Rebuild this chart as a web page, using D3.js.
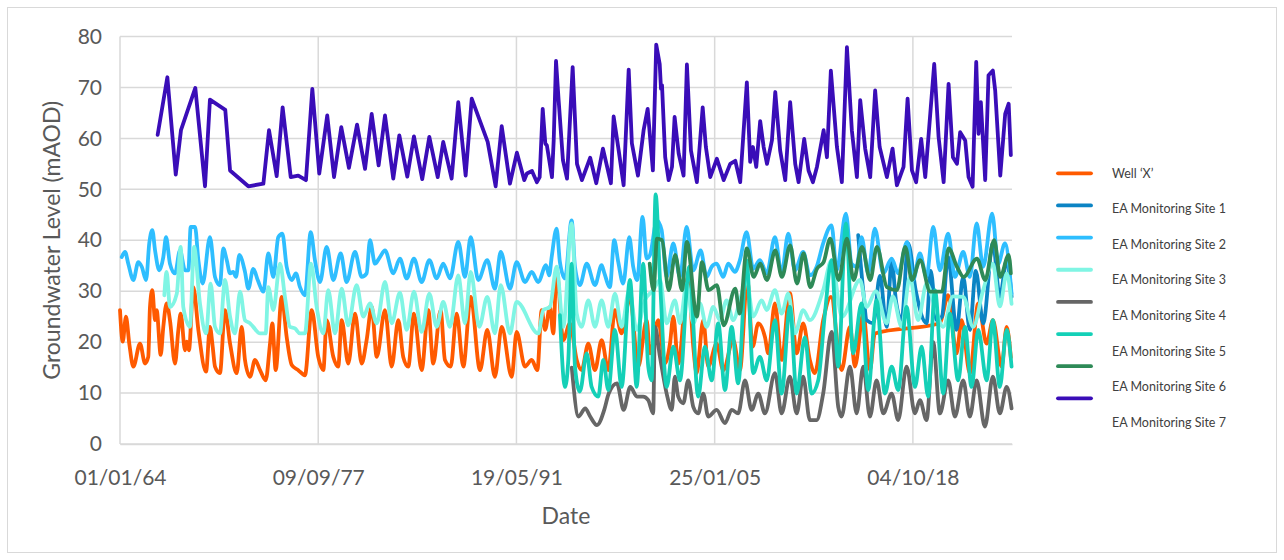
<!DOCTYPE html>
<html><head><meta charset="utf-8">
<script src="https://cdn.jsdelivr.net/npm/d3@7"></script>
<style>html,body{margin:0;padding:0;background:#fff;}svg{display:block;}</style>
</head><body>
<svg id="chart" width="1284" height="560"></svg>
<script>
// ---------- DATA (decimal year, groundwater level mAOD) ----------
const seriesNames = ["Well \u2018X\u2019","EA Monitoring Site 1","EA Monitoring Site 2","EA Monitoring Site 3","EA Monitoring Site 4","EA Monitoring Site 5","EA Monitoring Site 6","EA Monitoring Site 7"];
const seriesColors = ["#FF5A00","#0B84C4","#2EBEFF","#80F5E4","#666666","#14D0B7","#2E8A57","#3A0DB8"];

const wellX = [[1964.00,26.3],[1964.19,20.1],[1964.41,25.0],[1964.64,19.7],[1964.92,15.2],[1965.38,19.7],[1965.73,15.8],[1965.95,17.1],[1966.07,26.9],[1966.23,30.2],[1966.42,24.3],[1966.53,26.3],[1966.81,17.5],[1966.99,23.0],[1967.22,27.6],[1967.45,24.3],[1967.80,15.8],[1968.03,22.4],[1968.19,25.6],[1968.49,18.4],[1968.61,20.1],[1968.76,18.4],[1969.06,30.8],[1969.41,22.4],[1969.94,14.2],[1970.21,23.0],[1970.40,19.1],[1970.56,15.2],[1970.90,13.9],[1971.25,26.3],[1971.60,19.7],[1972.06,13.9],[1972.40,23.0],[1972.63,16.5],[1972.98,13.2],[1973.32,16.5],[1973.67,14.5],[1974.06,12.5],[1974.36,19.7],[1974.52,23.7],[1974.75,14.5],[1975.17,28.9],[1975.51,21.0],[1975.86,15.5],[1976.31,14.5],[1976.77,13.5],[1977.24,26.3],[1977.69,17.1],[1978.04,14.5],[1978.27,24.3],[1978.73,17.1],[1979.07,15.2],[1979.31,24.3],[1979.76,15.8],[1980.23,25.6],[1980.69,15.8],[1981.03,20.4],[1981.38,26.9],[1981.73,17.1],[1982.30,26.3],[1982.76,15.2],[1983.22,24.3],[1983.56,17.1],[1983.91,15.2],[1984.30,25.6],[1984.83,14.5],[1985.29,26.3],[1985.63,15.8],[1986.14,26.3],[1986.44,16.5],[1986.84,15.2],[1987.25,25.6],[1987.71,15.2],[1988.22,28.9],[1988.86,14.5],[1989.36,22.4],[1989.89,13.2],[1990.36,23.0],[1991.05,13.2],[1991.39,22.0],[1991.97,15.2],[1992.43,16.5],[1992.82,14.5],[1993.12,26.3],[1993.35,22.4],[1993.69,26.9],[1993.92,21.7],[1994.15,34.1],[1994.61,20.4],[1995.07,23.7],[1995.54,16.5],[1995.88,14.5],[1996.34,19.7],[1996.80,14.5],[1997.26,20.4],[1997.72,14.5],[1998.18,26.3],[1998.64,21.7],[1999.22,28.9],[1999.79,15.2],[2000.37,24.3],[2000.60,17.8],[2001.17,24.3],[2001.63,15.8],[2001.98,19.7],[2002.21,25.0],[2002.55,15.8],[2003.24,32.8],[2003.59,19.1],[2003.82,13.9],[2004.28,24.3],[2004.62,15.2],[2005.20,19.7],[2005.66,14.5],[2006.35,20.4],[2006.81,14.5],[2007.32,32.2],[2007.69,19.1],[2008.08,23.7],[2008.54,21.0],[2008.77,17.8],[2009.23,27.6],[2009.69,16.5],[2010.26,29.6],[2010.73,17.8],[2011.18,23.7],[2011.64,16.5],[2011.99,13.9],[2012.56,24.3],[2013.10,28.9],[2013.83,14.5],[2014.41,23.0],[2014.75,15.2],[2015.33,25.6],[2015.79,14.5],[2016.13,21.7],[2020.62,23.7],[2021.19,29.2],[2021.77,17.8],[2022.12,24.3],[2022.69,13.9],[2023.27,27.6],[2023.85,19.7],[2024.28,24.3],[2024.88,15.2],[2025.23,23.0],[2025.52,17.0]];

const site1 = [[2014.98,41.0],[2015.33,30.0],[2015.56,24.3],[2016.02,23.7],[2016.48,33.0],[2016.94,23.0],[2017.29,36.1],[2017.59,28.0],[2017.98,24.3],[2018.43,39.4],[2018.96,30.0],[2019.70,23.7],[2019.99,34.0],[2020.39,24.3],[2020.76,25.0],[2021.19,36.7],[2021.77,22.4],[2022.23,32.8],[2022.69,22.4],[2023.10,34.0],[2023.61,23.7],[2024.28,39.4],[2024.76,28.9],[2025.23,36.0],[2025.57,28.9]];

const site2 = [[1964.12,36.7],[1964.35,37.7],[1964.57,35.4],[1964.92,32.2],[1965.26,35.7],[1965.50,34.8],[1965.80,32.2],[1966.02,39.4],[1966.23,42.0],[1966.42,38.0],[1966.71,34.1],[1966.99,36.7],[1967.18,40.6],[1967.45,35.4],[1967.80,33.5],[1968.14,38.0],[1968.49,34.1],[1968.72,34.1],[1968.88,42.6],[1969.18,42.6],[1969.41,36.1],[1969.71,31.5],[1970.21,40.6],[1970.56,32.8],[1970.90,31.2],[1971.13,38.4],[1971.37,36.1],[1971.60,33.5],[1971.82,33.8],[1972.01,32.8],[1972.24,37.1],[1972.63,33.8],[1972.86,30.5],[1973.20,34.4],[1973.51,32.2],[1973.90,29.9],[1974.24,37.4],[1974.59,32.8],[1974.93,40.6],[1975.21,41.3],[1975.51,34.8],[1975.86,32.2],[1976.15,33.5],[1976.43,30.8],[1976.77,29.2],[1977.17,41.6],[1977.46,36.1],[1977.81,31.8],[1978.27,38.7],[1978.73,32.2],[1979.24,37.4],[1979.65,31.8],[1980.23,37.7],[1980.69,32.8],[1981.03,33.5],[1981.26,40.0],[1981.61,35.4],[1981.95,36.7],[1982.30,38.0],[1982.87,33.5],[1983.33,36.4],[1983.80,32.5],[1984.30,36.4],[1984.83,31.8],[1985.36,36.1],[1985.87,32.5],[1986.32,35.4],[1986.79,32.5],[1987.36,39.7],[1987.82,32.8],[1988.22,40.6],[1988.74,32.2],[1989.36,36.1],[1989.89,30.5],[1990.29,37.7],[1990.93,30.5],[1991.39,35.7],[1991.97,31.8],[1992.43,33.8],[1992.88,31.8],[1993.42,35.1],[1993.64,33.1],[1993.81,36.7],[1994.15,42.3],[1994.38,35.7],[1994.73,32.5],[1995.19,43.9],[1995.42,34.8],[1995.76,31.2],[1996.23,35.4],[1996.80,31.2],[1997.26,35.1],[1997.42,33.8],[1997.83,30.8],[1998.13,40.0],[1998.41,35.7],[1998.75,31.5],[1999.17,40.6],[1999.44,34.8],[1999.72,32.2],[2000.09,44.6],[2000.37,36.4],[2000.60,37.1],[2001.08,43.9],[2001.40,42.0],[2001.75,32.8],[2002.21,39.4],[2002.67,32.8],[2003.13,42.6],[2003.59,34.1],[2004.10,38.0],[2004.51,32.8],[2004.86,34.8],[2005.20,35.4],[2005.66,32.8],[2006.00,35.4],[2006.47,33.8],[2006.81,36.1],[2007.27,41.6],[2007.73,34.4],[2008.19,36.1],[2008.66,33.5],[2009.23,40.6],[2009.69,33.5],[2010.15,41.3],[2010.61,34.1],[2011.18,37.7],[2011.64,33.1],[2012.11,34.8],[2012.56,39.4],[2013.14,42.9],[2013.49,34.1],[2014.13,45.2],[2014.52,35.4],[2014.87,34.8],[2015.21,40.6],[2015.67,33.5],[2016.13,42.3],[2016.71,33.5],[2017.29,36.4],[2017.74,33.5],[2018.36,39.7],[2018.78,32.2],[2019.24,37.4],[2019.70,32.8],[2020.16,42.6],[2020.62,34.1],[2021.19,41.3],[2021.66,32.8],[2022.23,37.7],[2022.69,32.8],[2023.16,43.3],[2023.61,34.8],[2024.23,45.2],[2024.65,35.4],[2025.11,39.4],[2025.57,29.5]];

const site3 = [[1967.06,29.2],[1967.22,33.8],[1967.45,26.9],[1967.92,29.5],[1968.19,38.7],[1968.37,26.9],[1968.83,23.0],[1969.11,38.7],[1969.52,27.6],[1969.94,21.7],[1970.26,31.5],[1970.56,23.0],[1970.90,21.7],[1971.25,32.2],[1971.60,25.0],[1971.94,21.7],[1972.29,29.9],[1972.63,24.3],[1972.98,23.7],[1973.20,23.0],[1973.67,21.7],[1974.06,21.7],[1974.24,30.8],[1974.59,26.3],[1975.05,35.4],[1975.39,28.9],[1975.74,23.0],[1976.08,22.7],[1976.43,21.7],[1976.77,21.7],[1977.19,35.4],[1977.58,26.9],[1978.04,21.7],[1978.38,30.2],[1978.85,21.7],[1979.31,30.5],[1979.76,23.3],[1980.34,31.2],[1980.80,25.0],[1981.26,27.6],[1981.73,23.7],[1982.30,31.8],[1982.76,23.7],[1983.33,29.7],[1983.80,22.4],[1984.30,29.9],[1984.83,22.0],[1985.36,29.5],[1985.87,23.0],[1986.32,27.9],[1986.79,23.0],[1987.36,33.1],[1987.82,23.7],[1988.22,33.8],[1988.81,23.0],[1989.36,28.9],[1989.89,21.7],[1990.29,31.2],[1990.93,21.7],[1991.39,27.9],[1992.88,21.7],[1993.23,26.3],[1993.69,26.9],[1994.15,34.8],[1994.61,23.0],[1995.19,43.3],[1995.54,25.6],[1995.88,23.0],[1996.34,28.2],[1996.80,23.0],[1997.26,28.2],[1997.72,23.0],[1998.18,29.5],[1998.64,23.0],[1999.17,30.2],[1999.68,22.4],[2000.25,28.2],[2000.82,30.2],[2001.29,32.2],[2001.75,23.7],[2002.32,28.2],[2002.67,23.7],[2003.13,31.5],[2003.59,23.7],[2004.05,27.6],[2004.51,23.0],[2004.97,26.9],[2005.43,24.3],[2005.89,28.2],[2006.35,24.3],[2006.81,28.2],[2007.27,32.2],[2007.73,25.0],[2008.31,28.2],[2008.66,26.3],[2009.23,30.2],[2009.69,25.6],[2010.15,29.5],[2010.61,21.7],[2011.18,26.3],[2011.64,24.3],[2012.56,30.2],[2013.14,36.1],[2013.86,25.0],[2015.10,32.2],[2015.56,26.9],[2016.20,30.0],[2016.94,23.7],[2017.37,29.0],[2017.98,23.0],[2018.55,32.8],[2019.12,24.3],[2019.70,31.5],[2020.27,27.0],[2020.85,23.0],[2021.52,29.0],[2022.23,28.9],[2022.92,23.0],[2023.59,30.0],[2024.28,35.4],[2024.76,27.0],[2025.23,33.5],[2025.57,27.5]];

const site4 = [[1995.20,15.0],[1995.67,5.4],[1996.13,7.0],[1996.47,5.4],[1996.94,3.7],[1997.44,6.7],[1997.75,9.9],[1998.32,11.9],[1998.78,6.7],[1999.24,11.2],[1999.70,9.3],[2000.13,9.3],[2000.48,8.6],[2000.82,6.0],[2000.94,23.0],[2001.29,17.1],[2001.75,9.9],[2002.10,6.7],[2002.32,13.2],[2002.55,9.3],[2002.90,8.0],[2003.24,12.5],[2003.59,7.3],[2003.93,6.0],[2004.28,9.9],[2004.62,5.4],[2005.20,6.7],[2005.78,4.1],[2006.24,6.7],[2006.69,6.0],[2007.16,12.5],[2007.62,6.7],[2008.08,9.9],[2008.54,6.0],[2009.23,13.9],[2009.69,6.0],[2010.26,13.2],[2010.73,6.0],[2011.18,13.2],[2011.64,4.7],[2012.11,4.7],[2012.56,9.9],[2013.14,22.0],[2013.60,7.3],[2013.83,5.4],[2014.41,15.2],[2014.87,6.0],[2015.33,15.2],[2015.79,5.4],[2016.25,12.5],[2016.71,6.0],[2017.29,9.9],[2017.74,4.7],[2018.32,15.2],[2018.90,6.0],[2019.24,8.6],[2019.70,4.7],[2020.16,20.0],[2020.62,6.0],[2021.19,12.5],[2021.66,5.4],[2022.23,12.5],[2022.69,5.4],[2023.16,12.5],[2023.73,3.4],[2024.28,13.2],[2024.76,6.0],[2025.23,11.2],[2025.57,7.0]];

const site5 = [[1994.38,25.3],[1994.73,11.2],[1994.96,16.5],[1995.19,35.4],[1995.42,15.2],[1995.76,10.3],[1996.23,17.8],[1996.57,11.2],[1997.03,9.3],[1997.37,16.5],[1997.72,10.6],[1998.18,22.4],[1998.64,11.2],[1999.22,32.2],[1999.68,11.2],[2000.13,35.4],[2000.48,15.2],[2000.71,12.5],[2000.99,49.0],[2001.29,32.2],[2001.75,11.2],[2002.21,19.1],[2002.67,12.5],[2003.31,34.8],[2003.93,9.3],[2004.39,19.1],[2004.86,12.5],[2005.31,23.7],[2005.78,10.6],[2006.24,23.0],[2006.69,11.9],[2007.27,36.1],[2007.73,13.9],[2008.19,17.1],[2008.66,12.5],[2009.23,24.3],[2009.69,9.9],[2010.26,26.9],[2010.73,9.9],[2011.30,21.0],[2011.76,9.9],[2012.22,12.5],[2012.68,25.6],[2013.14,36.1],[2013.60,15.2],[2014.13,43.3],[2014.63,17.8],[2015.21,27.6],[2015.67,10.6],[2016.25,28.2],[2016.82,9.9],[2017.29,15.2],[2017.74,10.6],[2018.32,26.9],[2018.90,11.2],[2019.36,19.1],[2019.81,9.3],[2020.28,30.2],[2020.85,9.9],[2021.31,25.6],[2021.88,12.5],[2022.35,23.0],[2022.81,11.2],[2023.27,22.4],[2023.85,12.5],[2024.28,24.3],[2024.76,11.2],[2025.23,22.4],[2025.57,15.2]];

const site6 = [[2000.58,35.4],[2000.85,30.2],[2001.08,40.3],[2001.43,40.0],[2001.89,30.2],[2002.34,37.1],[2002.81,30.2],[2003.15,39.7],[2003.84,25.0],[2004.19,35.7],[2004.65,30.2],[2005.22,31.2],[2005.69,23.3],[2006.49,30.5],[2006.79,25.6],[2007.29,38.4],[2007.76,32.8],[2008.21,35.4],[2008.68,32.2],[2009.25,38.0],[2009.71,32.8],[2010.28,39.0],[2010.75,31.5],[2011.21,37.4],[2011.67,30.8],[2012.13,34.4],[2012.59,35.7],[2013.05,40.3],[2013.63,32.2],[2014.20,40.3],[2014.66,32.2],[2015.24,38.7],[2015.81,32.2],[2016.27,38.7],[2016.96,30.8],[2017.65,30.2],[2018.23,38.7],[2018.69,32.2],[2019.26,36.1],[2019.95,29.9],[2020.76,29.9],[2021.22,38.4],[2021.80,34.8],[2022.26,32.8],[2023.18,36.4],[2023.75,32.2],[2024.37,40.0],[2024.79,32.8],[2025.37,37.1],[2025.52,33.5]];

const site7 = [[1966.60,60.7],[1967.27,72.0],[1967.85,52.9],[1968.21,61.6],[1969.20,69.9],[1969.87,50.6],[1970.21,67.6],[1971.27,65.6],[1971.60,53.7],[1972.86,50.6],[1973.90,51.1],[1974.29,61.6],[1974.82,52.6],[1975.23,66.1],[1975.79,52.4],[1976.31,52.7],[1976.84,51.8],[1977.28,69.7],[1977.76,53.1],[1978.31,64.5],[1978.78,52.4],[1979.28,62.2],[1979.81,54.2],[1980.37,62.7],[1980.92,54.0],[1981.38,64.8],[1981.86,54.7],[1982.30,64.5],[1982.87,52.1],[1983.29,60.6],[1983.84,52.5],[1984.30,60.4],[1984.87,52.0],[1985.36,60.3],[1985.94,52.4],[1986.32,59.3],[1986.90,52.1],[1987.36,67.1],[1987.87,52.7],[1988.29,67.8],[1989.39,59.3],[1989.94,50.6],[1990.36,62.4],[1990.93,51.1],[1991.41,57.2],[1991.92,51.8],[1992.10,53.1],[1992.45,53.6],[1992.79,51.4],[1992.98,52.4],[1993.19,65.8],[1993.37,59.0],[1993.48,58.6],[1993.83,52.4],[1993.95,59.6],[1994.11,75.2],[1994.29,67.5],[1994.59,55.7],[1994.87,52.1],[1995.26,74.0],[1995.56,55.0],[1995.90,51.8],[1996.47,56.2],[1996.89,51.2],[1997.35,58.0],[1997.90,51.2],[1998.09,64.3],[1998.44,57.6],[1998.78,50.8],[1999.13,73.5],[1999.35,59.0],[1999.77,52.7],[2000.16,61.6],[2000.44,65.8],[2000.80,53.7],[2001.03,78.4],[2001.27,74.6],[2001.36,69.7],[2001.43,70.4],[2001.65,56.3],[2001.89,51.8],[2002.12,54.4],[2002.30,64.2],[2002.58,57.0],[2002.92,52.7],[2003.15,74.5],[2003.43,57.6],[2003.84,51.4],[2004.24,66.1],[2004.46,58.3],[2004.76,52.4],[2005.22,56.0],[2005.69,51.8],[2006.14,55.0],[2006.49,55.6],[2006.83,51.4],[2007.29,71.0],[2007.52,55.4],[2007.71,58.3],[2007.94,54.4],[2008.21,63.4],[2008.45,58.3],[2008.68,55.0],[2009.02,59.6],[2009.25,69.1],[2009.59,57.6],[2009.94,51.8],[2010.28,67.1],[2010.63,55.0],[2010.86,51.4],[2011.25,59.9],[2011.55,53.7],[2011.85,51.4],[2012.13,54.4],[2012.59,61.6],[2012.82,56.3],[2013.09,73.3],[2013.51,58.3],[2013.85,51.4],[2014.20,77.9],[2014.54,61.6],[2014.89,52.4],[2015.12,67.5],[2015.46,58.0],[2015.81,52.4],[2016.15,69.4],[2016.46,58.3],[2016.96,52.4],[2017.35,58.0],[2017.65,50.8],[2018.11,54.4],[2018.39,67.8],[2018.69,53.7],[2018.98,51.4],[2019.33,59.9],[2019.61,52.4],[2020.23,74.6],[2020.53,60.3],[2020.88,51.4],[2021.22,70.7],[2021.52,56.3],[2021.80,55.0],[2022.02,61.2],[2022.37,59.6],[2022.60,52.4],[2022.88,50.5],[2023.13,75.0],[2023.29,60.9],[2023.45,67.1],[2023.75,51.8],[2023.98,72.4],[2024.28,73.3],[2024.44,69.4],[2024.79,52.7],[2025.13,64.8],[2025.37,66.8],[2025.52,56.7]];

const allSeries = [wellX, site1, site2, site3, site4, site5, site6, site7];
const yTicks = [0,10,20,30,40,50,60,70,80];
const xTickStepDays = 5000;          // Excel major unit
const xTickCount = 5;
const xAxisTitle = "Date";
const yAxisTitle = "Groundwater Level (mAOD)";

// ---------- helpers ----------
function decYearToDate(y){
  const yr = Math.floor(y), f = y - yr;
  const a = Date.UTC(yr,0,1), b = Date.UTC(yr+1,0,1);
  return new Date(a + f*(b-a));
}
const t0 = new Date(Date.UTC(1964,0,1));
const t1 = d3.utcDay.offset(t0, 22500);

// ---------- layout ----------
const svg = d3.select("#chart");
const L = 120, R = 1012, T = 36.5, B = 444;
const x = d3.scaleUtc().domain([t0,t1]).range([L,R]);
const y = d3.scaleLinear().domain([0,80]).range([B,T]);
const font = "Lato, 'Open Sans', sans-serif";
const grey = "#595959";

// outer frame
svg.append("rect").attr("x",7.5).attr("y",7.5).attr("width",1269).attr("height",545)
  .attr("fill","#fff").attr("stroke","#d9d9d9").attr("stroke-width",1);

const xTickVals = d3.range(xTickCount).map(i => d3.utcDay.offset(t0, i*xTickStepDays));

// gridlines
svg.append("g").selectAll("line").data(yTicks).join("line")
  .attr("x1",L).attr("x2",R).attr("y1",d=>y(d)).attr("y2",d=>y(d))
  .attr("stroke","#d9d9d9").attr("stroke-width",1.5);
svg.append("g").selectAll("line").data(xTickVals).join("line")
  .attr("x1",d=>x(d)).attr("x2",d=>x(d)).attr("y1",T).attr("y2",B)
  .attr("stroke","#d9d9d9").attr("stroke-width",1.5);

// axes (labels only)
const fmt = d3.utcFormat("%d/%m/%y");
const xAxis = svg.append("g").attr("transform",`translate(0,${B})`)
  .call(d3.axisBottom(x).tickValues(xTickVals).tickFormat(fmt).tickSize(0).tickPadding(26));
xAxis.select(".domain").attr("stroke","#d9d9d9").attr("stroke-width",1.5);
xAxis.selectAll("text").attr("font-family",font).attr("font-size",21).attr("fill",grey);

const yAxis = svg.append("g").attr("transform",`translate(${L},0)`)
  .call(d3.axisLeft(y).tickValues(yTicks).tickSize(0).tickPadding(18));
yAxis.select(".domain").remove();
yAxis.selectAll("text").attr("font-family",font).attr("font-size",21).attr("fill",grey);

// titles
svg.append("text").attr("x",(L+R)/2).attr("y",524).attr("text-anchor","middle")
  .attr("font-family",font).attr("font-size",23).attr("fill",grey).text(xAxisTitle);
svg.append("text").attr("transform",`translate(60,${(T+B)/2}) rotate(-90)`).attr("text-anchor","middle")
  .attr("font-family",font).attr("font-size",23).attr("fill",grey).text(yAxisTitle);

// lines: dense monitoring records drawn smoothly, sparse Site 7 straight
const smooth = d3.line().curve(d3.curveMonotoneX).x(d=>x(decYearToDate(d[0]))).y(d=>y(d[1]));
const straight = d3.line().x(d=>x(decYearToDate(d[0]))).y(d=>y(d[1]));
svg.append("g").selectAll("path").data(allSeries).join("path")
  .attr("d",(d,i)=> i===7 ? straight(d) : smooth(d)).attr("fill","none")
  .attr("stroke",(d,i)=>seriesColors[i]).attr("stroke-width",3.8)
  .attr("stroke-linejoin","round").attr("stroke-linecap","round");

// legend
const lg = svg.append("g");
seriesNames.forEach((n,i)=>{
  lg.append("line").attr("x1",1058).attr("x2",1091)
    .attr("y1",173.3+i*32.15).attr("y2",173.3+i*32.15)
    .attr("stroke",seriesColors[i]).attr("stroke-width",3.8).attr("stroke-linecap","round");
  lg.append("text").attr("x",1112).attr("y",173.3+i*35.6).attr("dy","0.35em")
    .attr("font-family",font).attr("font-size",12.5).attr("fill","#404040").text(n);
});
</script>
</body></html>
